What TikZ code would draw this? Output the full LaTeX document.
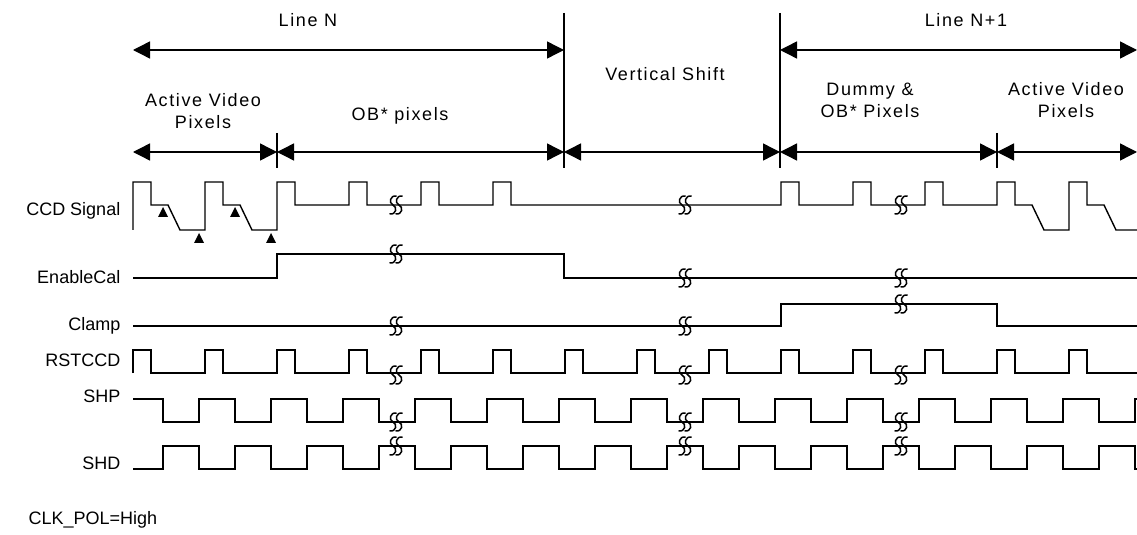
\documentclass[tikz,border=0pt]{standalone}
\usepackage{fontspec}
\setmainfont{Liberation Sans}
\newfontfamily\toplbl[LetterSpace=9]{Liberation Sans}
\usetikzlibrary{arrows.meta}

\begin{document}
\begin{tikzpicture}[x=0.5pt, y=-0.5pt, line width=0.7pt,
  font=\fontsize{9}{11}\selectfont, >={Triangle[length=8.5pt,width=8.5pt]},
  lbl/.style={align=center, inner sep=0pt, font=\toplbl\fontsize{9}{11}\selectfont},
  sig/.style={anchor=east, inner sep=0pt},
  dim/.style={<->},
  wave/.style={line join=miter},
  brk/.pic={\foreach \d in {-3,3}
    \draw[line width=0.75pt] ({\d+3.5},-9) .. controls ({\d-3},-10) and ({\d-4.5},-2) .. (\d,0)
      .. controls ({\d+4.5},2) and ({\d+3.5},10) .. ({\d-3.5},9);}]
  \useasboundingbox (0,0) rectangle (1137,535);
  % time marks
  \coordinate (a0) at (133,50);  \coordinate (a1) at (564,50);
  \coordinate (a2) at (780,50);  \coordinate (a3) at (1137,50);
  \coordinate (b0) at (133,152); \coordinate (b1) at (277,152);
  \coordinate (b2) at (564,152); \coordinate (b3) at (780,152);
  \coordinate (b4) at (997,152); \coordinate (b5) at (1137,152);
  \draw (564,13) -- (564,168); \draw (780,13) -- (780,168);
  \draw (277,133) -- (277,168); \draw (997,133) -- (997,168);
  \draw[dim] (a0) -- (a1); \draw[dim] (a2) -- (a3);
  \draw[dim] (b0) -- (b1); \draw[dim] (b1) -- (b2); \draw[dim] (b2) -- (b3);
  \draw[dim] (b3) -- (b4); \draw[dim] (b4) -- (b5);
  % interval labels
  \node[lbl] (lineN)  at (308,20)   {Line N};
  \node[lbl] (lineN1) at (966,20)   {Line N+1};
  \node[lbl] (vshift) at (665,74)   {Vertical Shift};
  \node[lbl] (act1)   at (203,111)  {Active Video\\Pixels};
  \node[lbl] (ob1)    at (400,116)  {OB* pixels};
  \node[lbl] (dum)    at (870,100)  {Dummy \&\\OB* Pixels};
  \node[lbl] (act2)   at (1066,100) {Active Video\\Pixels};
  % signal names
  \node[sig] (ccd) at (121,211) {CCD Signal};
  \node[sig] (en)  at (121,277) {EnableCal};
  \node[sig] (clp) at (121,326) {Clamp};
  \node[sig] (rst) at (121,360) {RSTCCD};
  \node[sig] (shp) at (121,396) {SHP};
  \node[sig] (shd) at (121,463) {SHD};
  \node[sig, anchor=west] (pol) at (28,520) {CLK\_POL=High};
  % CCD signal
  \draw[wave] (133,230)
    \foreach \t in {133,205}{ -- (\t,182) -- ++(18,0) -- ++(0,23) -- ++(17,0) -- ++(12,25) -- ({\t+72},230)}
    \foreach \t in {277,349,421,493}{ -- (\t,182) -- ++(18,0) -- ++(0,23) -- ({\t+72},205)}
    -- (781,205)
    \foreach \t in {781,853,925}{ -- (\t,182) -- ++(18,0) -- ++(0,23) -- ({\t+72},205)}
    \foreach \t in {997,1069}{ -- (\t,182) -- ++(18,0) -- ++(0,23) -- ++(17,0) -- ++(12,25) -- ({min(\t+72,1137)},230)};
  \foreach \x/\y in {163/207,235/207,199/233,271/233}
    \fill (\x,\y) -- ++(-5,10) -- ++(10,0) -- cycle;
  % EnableCal, Clamp
  \draw[wave] (133,278) -- (277,278) -- (277,254) -- (564,254) -- (564,278) -- (1137,278);
  \draw[wave] (133,326) -- (781,326) -- (781,304) -- (997,304) -- (997,326) -- (1137,326);
  % RSTCCD, SHP, SHD
  \draw[wave] (133,373) \foreach \k in {0,...,13}{ -- ({133+72*\k},373) -- ++(0,-23) -- ++(18,0) -- ++(0,23)} -- (1137,373);
  \draw[wave] (133,399) \foreach \k in {0,...,13}{ -- ({163+72*\k},399) -- ++(0,23) -- ++(36,0) -- ++(0,-23)} -- (1137,399);
  \draw[wave] (133,469) \foreach \k in {0,...,13}{ -- ({163+72*\k},469) -- ++(0,-23) -- ++(36,0) -- ++(0,23)} -- (1137,469);
  % breaks
  \foreach \x/\y in {396/205,685/205,901/205, 396/254,685/278,901/278, 396/326,685/326,901/304,
    396/375,685/375,901/375, 396/422,685/422,901/422, 396/446,685/446,901/446}
    \pic at (\x,\y) {brk};
\end{tikzpicture}
\end{document}
